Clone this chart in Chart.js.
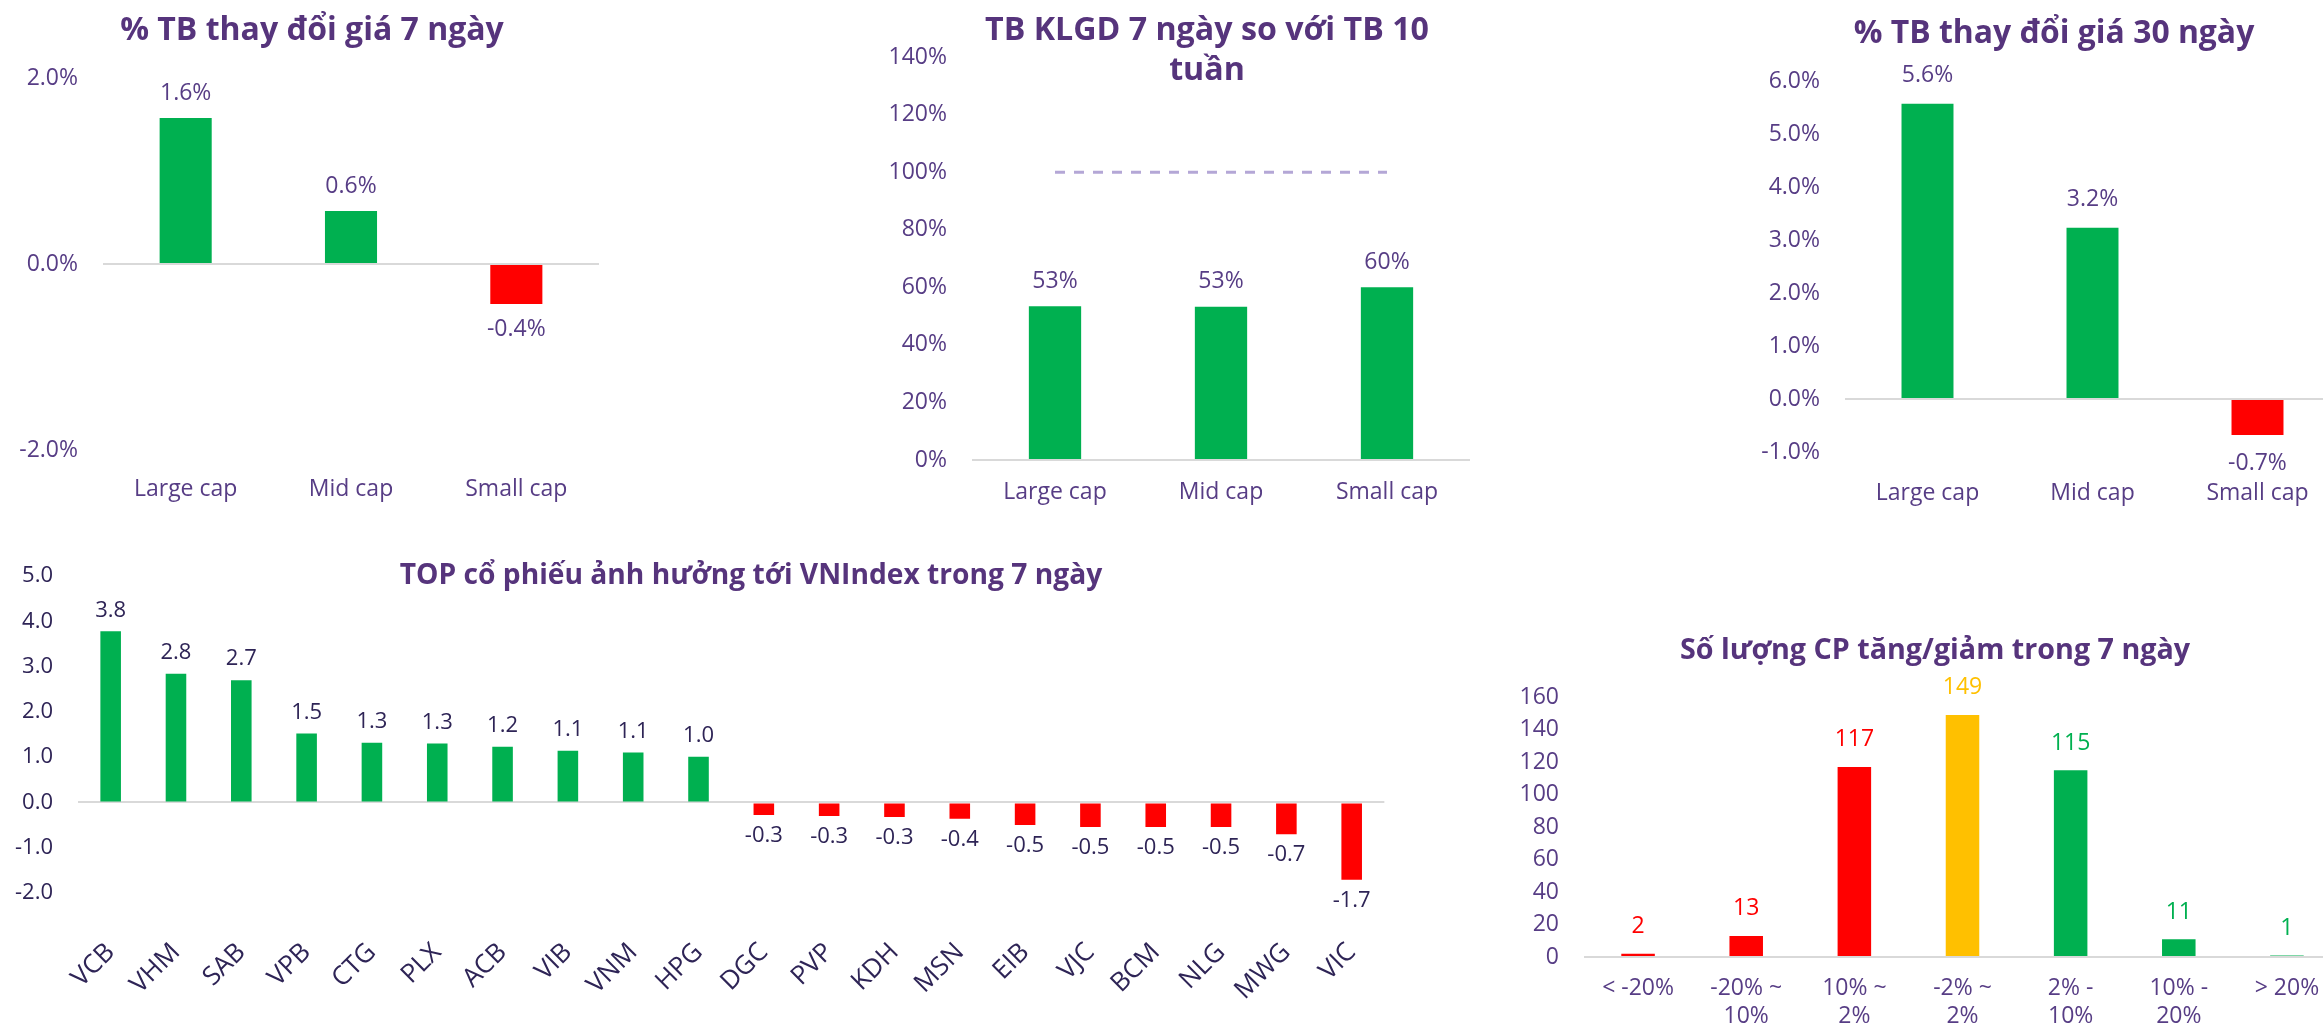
<!DOCTYPE html>
<html>
<head>
<meta charset="utf-8">
<script src="https://cdn.jsdelivr.net/npm/chart.js@4.4.1/dist/chart.umd.min.js"></script>
<style>
  html, body { margin: 0; padding: 0; width: 2323px; height: 1033px; overflow: hidden; background: #ffffff; }
  canvas { position: absolute; }
  .title { position: absolute; transform: translate(-50%, -50%); font-family: "Open Sans", sans-serif; font-weight: 700; color: #56347C; white-space: nowrap; text-align: center; z-index: 5; }
</style>
</head>
<body>
<div class="title" data-w="384" style="left:312px; top:27px; font-size:27px;">% TB thay đổi giá 7 ngày</div>
<div class="title" data-w="444" style="left:1207px; top:48px; font-size:27px; line-height:40px;">TB KLGD 7 ngày so với TB 10<br>tuần</div>
<div class="title" data-w="401" style="left:2054px; top:30px; font-size:27px;">% TB thay đổi giá 30 ngày</div>
<div class="title" data-w="702" style="left:751px; top:573px; font-size:27px;">TOP cổ phiếu ảnh hưởng tới VNIndex trong 7 ngày</div>
<div class="title" data-w="510" style="left:1935px; top:647px; font-size:25px;">Số lượng CP tăng/giảm trong 7 ngày</div>

<canvas id="c1"></canvas>
<canvas id="c2"></canvas>
<canvas id="c3"></canvas>
<canvas id="c4"></canvas>
<canvas id="c5"></canvas>

<script>
// ---------------- DATA ----------------
const capCategories = ['Large cap', 'Mid cap', 'Small cap'];

const priceChange7d = [1.57, 0.57, -0.43];          // %
const priceChange7dTicks = [-2, 0, 2];

const volume7dVs10w = [53.4, 53.2, 60.0];           // %
const volumeReference = [100, 100, 100];            // %
const volumeTicks = [0, 20, 40, 60, 80, 100, 120, 140];

const priceChange30d = [5.57, 3.23, -0.68];         // %
const priceChange30dTicks = [-1, 0, 1, 2, 3, 4, 5, 6];

const topTickers = ['VCB','VHM','SAB','VPB','CTG','PLX','ACB','VIB','VNM','HPG',
                    'DGC','PVP','KDH','MSN','EIB','VJC','BCM','NLG','MWG','VIC'];
const topImpact  = [3.78, 2.84, 2.70, 1.52, 1.32, 1.30, 1.23, 1.14, 1.10, 1.01,
                    -0.28, -0.30, -0.32, -0.36, -0.50, -0.54, -0.54, -0.54, -0.70, -1.71];
const topImpactTicks = [-2, -1, 0, 1, 2, 3, 4, 5];

const breadthCategories = [['< -20%'], ['-20% ~', '10%'], ['10% ~', '2%'], ['-2% ~', '2%'],
                           ['2% -', '10%'], ['10% -', '20%'], ['> 20%']];
const breadthCounts = [2, 13, 117, 149, 115, 11, 1];
const breadthTicks = [0, 20, 40, 60, 80, 100, 120, 140, 160];

// ---------------- STYLE ----------------
const GREEN = '#00B050', RED = '#FF0000', AMBER = '#FFC000';
const PURPLE = '#573D85', NAVY = '#2E2456';
const FONT = '"Open Sans", sans-serif';
const TICK = 23;
const breadthColors = [RED, RED, RED, AMBER, GREEN, GREEN, GREEN];
const signColors = arr => arr.map(v => v >= 0 ? GREEN : RED);

// fit each title to its measured width in the reference
(function fitTitles() {
  const m = document.createElement('canvas').getContext('2d');
  document.querySelectorAll('.title').forEach(el => {
    const base = parseFloat(el.style.fontSize);
    m.font = '700 ' + base + 'px "Open Sans"';
    const firstLine = el.innerHTML.split('<br>')[0].replace(/&amp;/g, '&');
    const w = m.measureText(firstLine).width;
    const target = parseFloat(el.dataset.w);
    el.style.fontSize = (base * target / w).toFixed(1) + 'px';
  });
})();

const dataLabels = {
  id: 'dataLabels',
  afterDatasetsDraw(chart) {
    const ctx = chart.ctx;
    chart.data.datasets.forEach((ds, i) => {
      if (!ds.labelFmt) return;
      const meta = chart.getDatasetMeta(i);
      ctx.save();
      ctx.font = (ds.labelSize || TICK) + 'px ' + FONT;
      ctx.textAlign = 'center';
      ctx.textBaseline = 'middle';
      meta.data.forEach((el, j) => {
        const v = ds.data[j];
        const off = ds.labelOffset || 25;
        const y = v >= 0 ? el.y - off : el.y + off;
        ctx.fillStyle = Array.isArray(ds.labelColor) ? ds.labelColor[j] : ds.labelColor;
        ctx.fillText(ds.labelFmt(v), el.x, y);
      });
      ctx.restore();
    });
  }
};

function makeChart(id, g, data, yOpts, xOpts) {
  const cv = document.getElementById(id);
  const left = g.areaLeft - g.yW;
  const top = g.areaTop - g.padTop;
  const width = g.areaRight - left + g.padRight;
  const height = g.areaBottom + g.xH - top;
  cv.style.left = left + 'px';
  cv.style.top = top + 'px';
  cv.width = width; cv.height = height;
  cv.style.width = width + 'px'; cv.style.height = height + 'px';
  return new Chart(cv, {
    type: 'bar',
    data: data,
    options: {
      responsive: false,
      animation: false,
      devicePixelRatio: 1,
      layout: { padding: { top: g.padTop, right: g.padRight, left: 0, bottom: 0 } },
      plugins: { legend: { display: false }, tooltip: { enabled: false }, title: { display: false } },
      scales: {
        x: Object.assign({
          grid: { display: false, drawTicks: false },
          border: { display: false },
          afterFit: s => { s.height = g.xH; },
        }, xOpts),
        y: Object.assign({
          border: { display: false },
          grid: {
            drawTicks: false,
            lineWidth: 2,
            color: c => (c.tick && c.tick.value === 0) ? '#D9D9D9' : 'rgba(0,0,0,0)'
          },
          afterFit: s => { s.width = g.yW; },
        }, yOpts)
      }
    },
    plugins: [dataLabels]
  });
}

function yScale(ticks, fmt, color, size) {
  return {
    min: ticks[0], max: ticks[ticks.length - 1],
    afterBuildTicks: s => { s.ticks = ticks.map(v => ({ value: v })); },
    ticks: { padding: 25, color: color, font: { family: FONT, size: size || TICK }, callback: fmt }
  };
}
function xScale(pad, color) {
  return {
    ticks: { padding: pad, color: color, font: { family: FONT, size: TICK, lineHeight: 1.22 }, autoSkip: false, maxRotation: 0, minRotation: 0 }
  };
}
const barDs = (values, colors, fmt, labelColor, extra) => Object.assign({
  type: 'bar', data: values, backgroundColor: colors,
  categoryPercentage: 1.0, barPercentage: 0.315,
  labelFmt: fmt, labelColor: labelColor, order: 1
}, extra || {});

// Chart 1
makeChart('c1', { areaLeft: 103, areaRight: 599, areaTop: 78, areaBottom: 450, yW: 100, xH: 60, padTop: 40, padRight: 10 },
  { labels: capCategories, datasets: [barDs(priceChange7d, signColors(priceChange7d), v => v.toFixed(1) + '%', PURPLE)] },
  yScale(priceChange7dTicks, v => v.toFixed(1) + '%', PURPLE),
  xScale(25, PURPLE));

// Chart 2
makeChart('c2', { areaLeft: 972, areaRight: 1470, areaTop: 57, areaBottom: 460, yW: 100, xH: 60, padTop: 40, padRight: 10 },
  { labels: capCategories, datasets: [
    barDs(volume7dVs10w, GREEN, v => v.toFixed(0) + '%', PURPLE),
    { type: 'line', data: volumeReference, borderColor: '#B4A7D6', borderWidth: 3, borderDash: [10, 9],
      pointRadius: 0, fill: false, order: 0 }
  ] },
  yScale(volumeTicks, v => v + '%', PURPLE),
  xScale(18, PURPLE));

// Chart 3
makeChart('c3', { areaLeft: 1845, areaRight: 2340, areaTop: 81, areaBottom: 452, yW: 100, xH: 60, padTop: 40, padRight: 10 },
  { labels: capCategories, datasets: [barDs(priceChange30d, signColors(priceChange30d), v => v.toFixed(1) + '%', PURPLE, { labelOffset: 28 })] },
  yScale(priceChange30dTicks, v => v.toFixed(1) + '%', PURPLE),
  xScale(27, PURPLE));

// Chart 4
makeChart('c4', { areaLeft: 78, areaRight: 1408, areaTop: 576, areaBottom: 893, yW: 70, xH: 140, padTop: 40, padRight: 10 },
  { labels: topTickers, datasets: [barDs(topImpact, signColors(topImpact), v => v.toFixed(1), NAVY, { labelOffset: 21, labelSize: 22 })] },
  yScale(topImpactTicks, v => v.toFixed(1), NAVY, 22),
  { ticks: { padding: 44, color: NAVY, font: { family: FONT, size: 26 }, autoSkip: false, maxRotation: 45, minRotation: 45 } });

// Chart 5
makeChart('c5', { areaLeft: 1584, areaRight: 2341, areaTop: 697, areaBottom: 957, yW: 80, xH: 76, padTop: 40, padRight: 10 },
  { labels: breadthCategories, datasets: [barDs(breadthCounts, breadthColors, v => String(v), breadthColors, { labelOffset: 27, barPercentage: 0.31 })] },
  yScale(breadthTicks, v => String(v), PURPLE),
  xScale(17, PURPLE));
</script>
</body>
</html>
